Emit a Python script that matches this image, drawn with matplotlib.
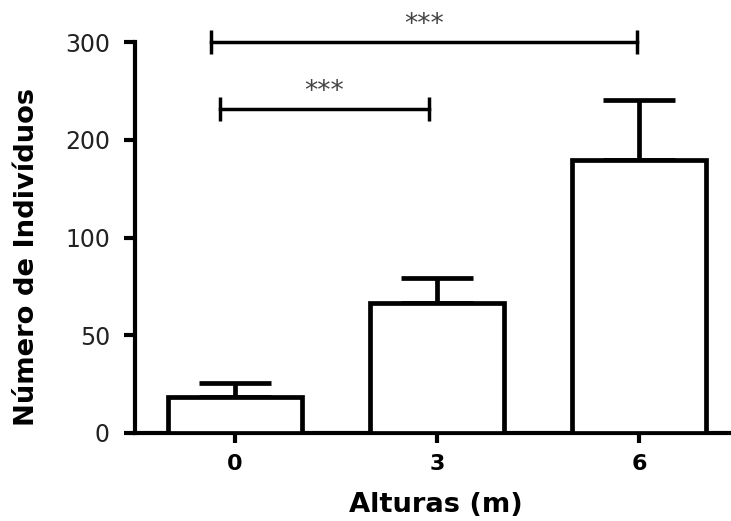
import numpy as np
import matplotlib
matplotlib.use('Agg')
import matplotlib.pyplot as plt

plt.rcParams['font.family'] = 'DejaVu Sans'

#################################################
# DATA
#################################################
alturas = ['0', '3', '6']
medias = [18.6, 66.3, 179.0]
erros = [7.1, 13.1, 62.0]

# comparacoes: (grupo a, grupo b, altura da barra, texto)
comp_a = [0, 0]
comp_b = [1, 2]
comp_y = [231, 300]
comp_txt = ['***', '***']

y_ticks = [0, 50, 100, 200, 300]


#################################################
# eixo y segmentado (0-100 linear, 100-300 comprimido)
#################################################
def fwd(v):
    v = np.asarray(v, dtype=float)
    return np.where(v <= 100, v, 100 + (v - 100) / 2.0)


def inv(t):
    t = np.asarray(t, dtype=float)
    return np.where(t <= 100, t, 100 + (t - 100) * 2.0)


fig = plt.figure(figsize=(7.31, 5.21), dpi=100)
ax = fig.add_axes([135 / 731, 1 - 433 / 521, 1 - 135 / 731, (433 - 42) / 521])
ax.set_yscale('function', functions=(fwd, inv))

x = np.arange(len(alturas))

ax.bar(x, medias, width=0.66, color='white', edgecolor='black', linewidth=3.4, zorder=3)
ax.errorbar(x, medias, yerr=[np.zeros(len(erros)), erros], fmt='none', ecolor='black',
            elinewidth=3.4, capsize=26, capthick=3.4, zorder=2)

# barras de significancia
for a, b, yy, t in zip(comp_a, comp_b, comp_y, comp_txt):
    x0 = a - 0.075 - 0.045 * (b - a - 1)
    x1 = b - 0.04 + 0.03 * (b - 1)
    ax.plot([x0, x1], [yy, yy], color='black', lw=2.5, marker='|', markersize=17,
            markeredgewidth=2.5, clip_on=False, zorder=4)
    xm = (x0 + x1) / 2
    ax.annotate(t, xy=(xm, yy), xytext=(0, 3), textcoords='offset points',
                ha='center', va='bottom', fontsize=19, color='#444444')

ax.set_xlim(-0.495, 2.455)
ax.set_ylim(0, 300)
ax.set_yticks(y_ticks)
ax.set_yticklabels([str(v) for v in y_ticks])
ax.yaxis.set_minor_locator(matplotlib.ticker.NullLocator())
ax.set_xticks(x)
ax.set_xticklabels(alturas, fontweight='bold')

for s in ['top', 'right']:
    ax.spines[s].set_visible(False)
for s in ['left', 'bottom']:
    ax.spines[s].set_linewidth(3)

ax.tick_params(axis='y', length=8, width=3, pad=10, labelsize=17, labelcolor='#222222')
ax.tick_params(axis='x', length=7, width=3, pad=8, labelsize=16)

fig.text(27 / 731, 1 - 257 / 521, 'Número de Indivíduos', rotation=90, ha='center',
         va='center', fontsize=19.7, fontweight='bold')
fig.text(436 / 731, 1 - 505 / 521, 'Alturas (m)', ha='center', va='center',
         fontsize=19.7, fontweight='bold')

plt.savefig('out.png', dpi=100)
